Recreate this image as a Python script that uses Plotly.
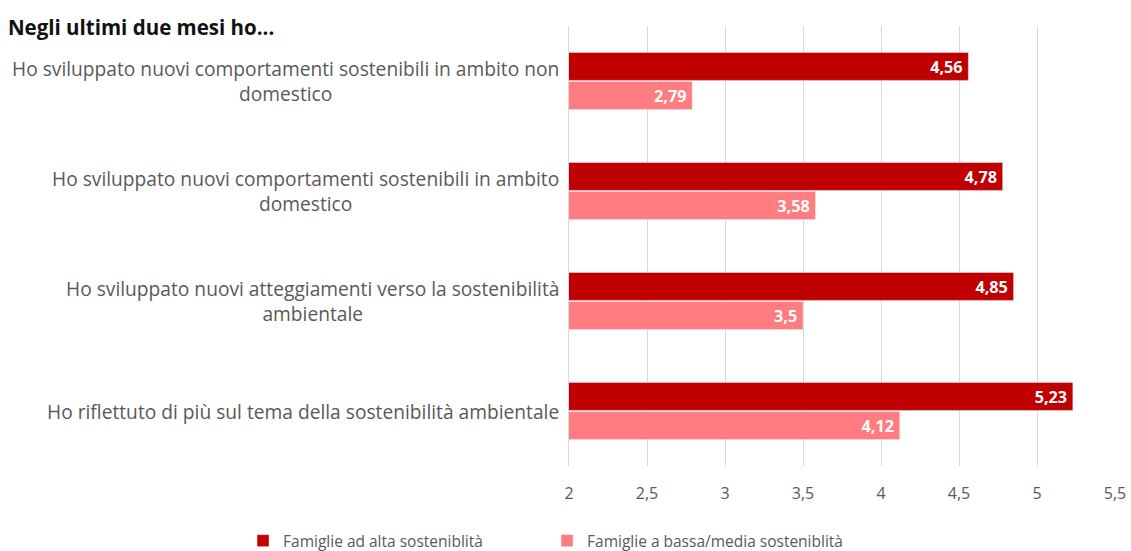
import plotly.graph_objects as go

categories = [
    "Ho sviluppato nuovi comportamenti sostenibili in ambito non<br>domestico",
    "Ho sviluppato nuovi comportamenti sostenibili in ambito<br>domestico",
    "Ho sviluppato nuovi atteggiamenti verso la sostenibilità<br>ambientale",
    "Ho riflettuto di più sul tema della sostenibilità ambientale",
]
alta = [4.56, 4.78, 4.85, 5.23]
bassa = [2.79, 3.58, 3.5, 4.12]
x_ticks = [2, 2.5, 3, 3.5, 4, 4.5, 5, 5.5]

C = {"alta": "#C00000", "bassa": "#FF7C80", "grid": "#D9D9D9", "text": "#595959"}
FONT = "'Open Sans', sans-serif"

ids = list(range(len(categories)))


def fmt(v):
    # comma decimals, padded a little from the bar end like the original
    return f"{v:g}".replace(".", ",") + "\u2009"


fig = go.Figure()
fig.add_trace(go.Bar(
    y=ids, x=alta, orientation="h", name="Famiglie ad alta sosteniblità",
    marker_color=C["alta"], text=[fmt(v) for v in alta],
    textposition="inside", insidetextanchor="end",
    textfont=dict(color="white", size=17, family=FONT, weight="bold"),
))
fig.add_trace(go.Bar(
    y=ids, x=bassa, orientation="h", name="Famiglie a bassa/media sosteniblità",
    marker_color=C["bassa"], text=[fmt(v) for v in bassa],
    textposition="inside", insidetextanchor="end",
    textfont=dict(color="white", size=17, family=FONT, weight="bold"),
))

# category labels as annotations so wrapped lines are centred like the original
for i, cat in enumerate(categories):
    fig.add_annotation(
        text=cat, x=0, xref="paper", xanchor="right", xshift=-8,
        y=i, yref="y", showarrow=False, align="center",
        font=dict(size=19.2, color=C["text"], family=FONT),
    )

fig.update_layout(
    width=1131, height=551,
    paper_bgcolor="white", plot_bgcolor="white",
    separators=",.",
    barmode="group", bargap=0.47, bargroupgap=0.04,
    margin=dict(l=569, r=16, t=26, b=85, autoexpand=False),
    font=dict(family=FONT, color=C["text"], size=15),
    title=dict(text="<b>Negli ultimi due mesi ho...</b>", x=0.007, xanchor="left",
               y=0.95, yanchor="middle", font=dict(size=20.5, color="#111111")),
    legend=dict(orientation="h", x=-0.597, xanchor="left", y=-0.132, yanchor="top",
                font=dict(size=15.5, color=C["text"]), itemwidth=30,
                entrywidth=259, traceorder="normal"),
    xaxis=dict(range=[2, 5.5], tickvals=x_ticks, gridcolor=C["grid"],
               showline=False, zeroline=False, ticks="", ticklabelstandoff=16,
               tickfont=dict(size=16, color=C["text"])),
    yaxis=dict(autorange="reversed", showticklabels=False, showgrid=False,
               showline=True, linecolor=C["grid"], zeroline=False),
)

# drop the page's default body margin so the figure sits at the window's corner
fig.write_html("out.html", config={"displayModeBar": False},
               post_script="document.body.style.margin='0';")
